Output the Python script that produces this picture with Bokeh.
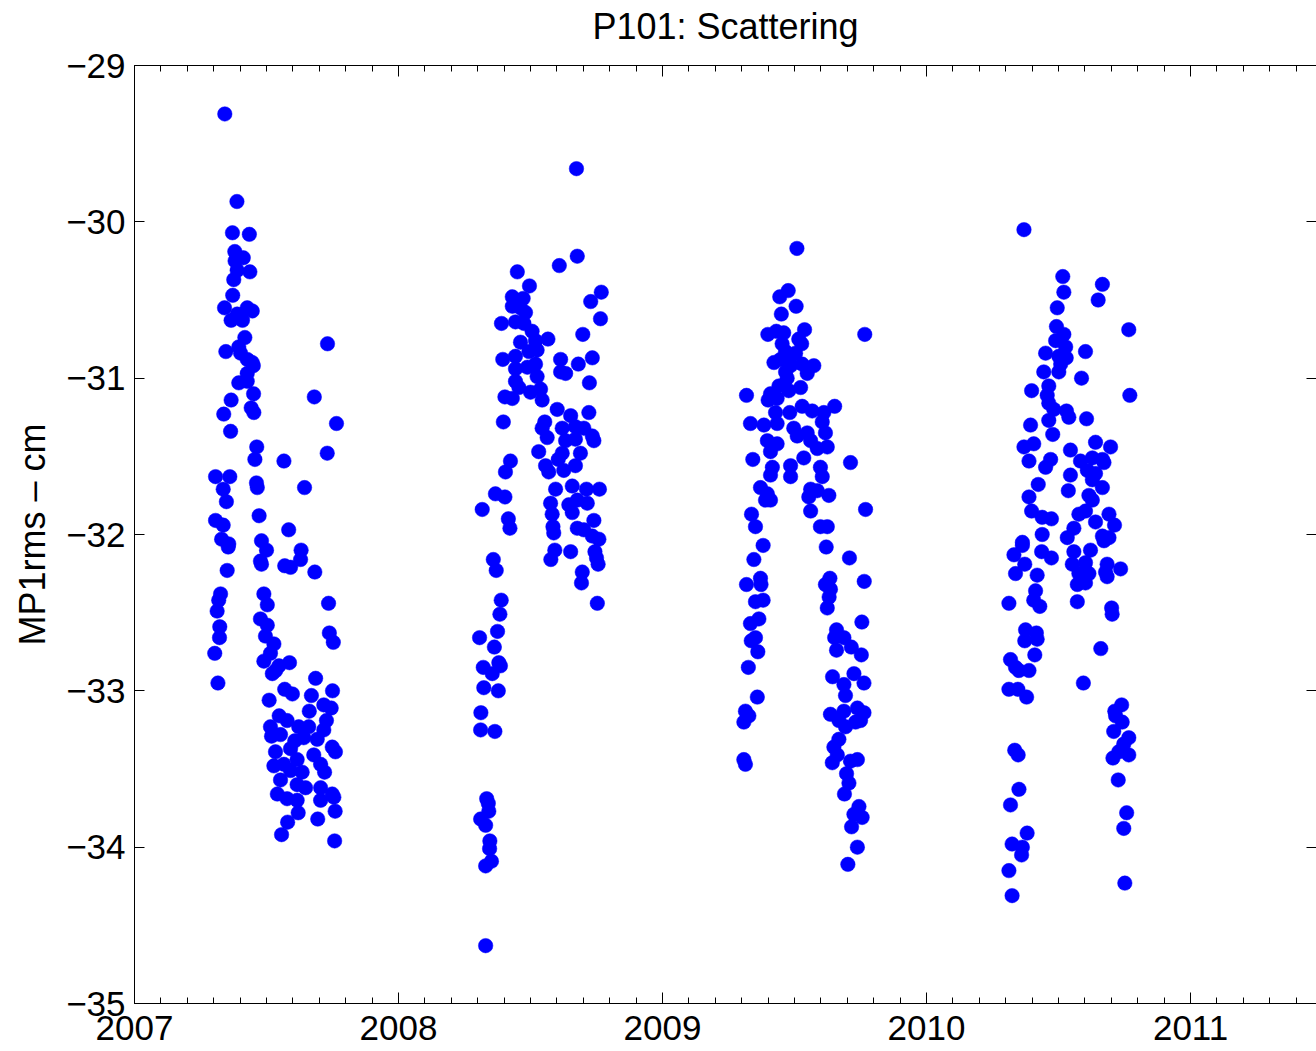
from bokeh.plotting import figure
from bokeh.models import Range1d, LinearAxis, SingleIntervalTicker
from bokeh.embed import file_html
from bokeh.resources import INLINE

# Daily MP1 rms values (cm) for station P101, one list pair per field season
t2007 = [2007.342, 2007.388, 2007.371, 2007.435, 2007.380, 2007.412, 2007.381, 2007.437, 2007.389, 2007.376,
         2007.372, 2007.341, 2007.427, 2007.446, 2007.366, 2007.409, 2007.389, 2007.418, 2007.731, 2007.346,
         2007.395, 2007.402, 2007.427, 2007.446, 2007.450, 2007.427, 2007.395, 2007.427, 2007.366, 2007.451,
         2007.681, 2007.442, 2007.452, 2007.338, 2007.765, 2007.364, 2007.463, 2007.456, 2007.566, 2007.730,
         2007.307, 2007.361, 2007.336, 2007.462, 2007.465, 2007.644, 2007.348, 2007.307, 2007.336, 2007.472,
         2007.584, 2007.330, 2007.357, 2007.355, 2007.481, 2007.500, 2007.631, 2007.629, 2007.481, 2007.477,
         2007.569, 2007.591, 2007.683, 2007.351, 2007.326, 2007.319, 2007.313, 2007.490, 2007.503, 2007.735,
         2007.323, 2007.322, 2007.477, 2007.503, 2007.496, 2007.528, 2007.738, 2007.753, 2007.304, 2007.515,
         2007.490, 2007.547, 2007.587, 2007.522, 2007.535, 2007.316, 2007.686, 2007.569, 2007.598, 2007.670,
         2007.750, 2007.510, 2007.717, 2007.745, 2007.662, 2007.548, 2007.578, 2007.515, 2007.622, 2007.660,
         2007.727, 2007.717, 2007.519, 2007.553, 2007.607, 2007.641, 2007.692, 2007.749, 2007.761, 2007.534,
         2007.591, 2007.616, 2007.679, 2007.705, 2007.720, 2007.528, 2007.566, 2007.591, 2007.635, 2007.553,
         2007.616, 2007.648, 2007.705, 2007.541, 2007.578, 2007.616, 2007.705, 2007.749, 2007.755, 2007.620,
         2007.694, 2007.760, 2007.580, 2007.557, 2007.758]
v2007 = [-29.31, -29.87, -30.07, -30.08, -30.19, -30.23, -30.25, -30.32, -30.31, -30.37,
         -30.47, -30.55, -30.55, -30.57, -30.63, -30.63, -30.59, -30.74, -30.78, -30.83,
         -30.80, -30.84, -30.88, -30.90, -30.92, -30.97, -31.03, -31.02, -31.14, -31.10,
         -31.12, -31.19, -31.22, -31.23, -31.29, -31.34, -31.44, -31.52, -31.53, -31.48,
         -31.63, -31.63, -31.71, -31.67, -31.70, -31.70, -31.79, -31.91, -31.94, -31.88,
         -31.97, -32.03, -32.06, -32.08, -32.04, -32.10, -32.10, -32.16, -32.19, -32.17,
         -32.20, -32.21, -32.24, -32.23, -32.38, -32.42, -32.49, -32.38, -32.45, -32.44,
         -32.59, -32.66, -32.54, -32.58, -32.65, -32.70, -32.63, -32.69, -32.76, -32.76,
         -32.81, -32.84, -32.82, -32.89, -32.87, -32.95, -32.92, -32.99, -33.02, -33.03,
         -33.00, -33.06, -33.09, -33.11, -33.13, -33.16, -33.19, -33.23, -33.23, -33.23,
         -33.19, -33.25, -33.29, -33.28, -33.32, -33.30, -33.31, -33.36, -33.39, -33.39,
         -33.37, -33.44, -33.41, -33.47, -33.52, -33.48, -33.47, -33.51, -33.52, -33.57,
         -33.60, -33.62, -33.62, -33.66, -33.69, -33.70, -33.70, -33.66, -33.68, -33.78,
         -33.82, -33.77, -33.84, -33.92, -33.96]

t2008 = [2008.674, 2008.677, 2008.609, 2008.450, 2008.496, 2008.768, 2008.728, 2008.765, 2008.431, 2008.472,
         2008.431, 2008.462, 2008.481, 2008.390, 2008.443, 2008.475, 2008.506, 2008.462, 2008.519, 2008.566,
         2008.698, 2008.395, 2008.443, 2008.494, 2008.525, 2008.614, 2008.681, 2008.734, 2008.443, 2008.488,
         2008.519, 2008.614, 2008.633, 2008.443, 2008.525, 2008.456, 2008.500, 2008.538, 2008.723, 2008.403,
         2008.431, 2008.544, 2008.397, 2008.601, 2008.652, 2008.721, 2008.554, 2008.544, 2008.563, 2008.620,
         2008.670, 2008.702, 2008.734, 2008.633, 2008.670, 2008.740, 2008.531, 2008.620, 2008.689, 2008.605,
         2008.557, 2008.670, 2008.569, 2008.626, 2008.424, 2008.405, 2008.367, 2008.403, 2008.317, 2008.416,
         2008.422, 2008.595, 2008.658, 2008.712, 2008.761, 2008.576, 2008.645, 2008.677, 2008.715, 2008.582,
         2008.658, 2008.740, 2008.585, 2008.588, 2008.677, 2008.702, 2008.734, 2008.759, 2008.592, 2008.577,
         2008.652, 2008.744, 2008.750, 2008.756, 2008.696, 2008.693, 2008.753, 2008.359, 2008.370, 2008.389,
         2008.384, 2008.375, 2008.307, 2008.363, 2008.380, 2008.321, 2008.355, 2008.386, 2008.323, 2008.378,
         2008.312, 2008.311, 2008.365, 2008.334, 2008.340, 2008.342, 2008.311, 2008.330, 2008.346, 2008.345,
         2008.352, 2008.330, 2008.330]
v2008 = [-29.66, -30.22, -30.28, -30.32, -30.41, -30.45, -30.51, -30.62, -30.48, -30.49,
         -30.54, -30.55, -30.58, -30.65, -30.64, -30.65, -30.70, -30.77, -30.76, -30.75,
         -30.72, -30.88, -30.86, -30.83, -30.82, -30.88, -30.91, -30.87, -30.94, -30.93,
         -30.91, -30.96, -30.97, -31.02, -30.99, -31.06, -31.09, -31.07, -31.03, -31.12,
         -31.13, -31.14, -31.28, -31.20, -31.24, -31.22, -31.28, -31.32, -31.38, -31.32,
         -31.31, -31.32, -31.37, -31.40, -31.39, -31.40, -31.47, -31.48, -31.48, -31.52,
         -31.56, -31.56, -31.60, -31.59, -31.53, -31.60, -31.74, -31.76, -31.84, -31.90,
         -31.96, -31.71, -31.69, -31.71, -31.71, -31.80, -31.81, -31.78, -31.80, -31.87,
         -31.86, -31.91, -31.95, -31.99, -31.96, -31.97, -32.01, -32.03, -32.10, -32.16,
         -32.11, -32.11, -32.15, -32.19, -32.24, -32.31, -32.44, -32.16, -32.23, -32.42,
         -32.51, -32.62, -32.66, -32.72, -32.82, -32.85, -32.89, -32.84, -32.98, -33.00,
         -33.14, -33.25, -33.26, -33.69, -33.72, -33.77, -33.82, -33.86, -33.96, -34.01,
         -34.09, -34.12, -34.63]

t2009 = [2009.509, 2009.476, 2009.444, 2009.506, 2009.450, 2009.399, 2009.431, 2009.459, 2009.538, 2009.766,
         2009.453, 2009.516, 2009.527, 2009.466, 2009.504, 2009.485, 2009.422, 2009.447, 2009.573, 2009.485,
         2009.529, 2009.466, 2009.548, 2009.472, 2009.523, 2009.441, 2009.478, 2009.318, 2009.409, 2009.400,
         2009.434, 2009.428, 2009.482, 2009.529, 2009.567, 2009.652, 2009.611, 2009.333, 2009.384, 2009.434,
         2009.497, 2009.548, 2009.605, 2009.617, 2009.397, 2009.434, 2009.510, 2009.561, 2009.624, 2009.586,
         2009.535, 2009.409, 2009.342, 2009.712, 2009.416, 2009.485, 2009.598, 2009.485, 2009.605, 2009.409,
         2009.371, 2009.397, 2009.390, 2009.409, 2009.561, 2009.586, 2009.630, 2009.554, 2009.561, 2009.769,
         2009.337, 2009.352, 2009.598, 2009.624, 2009.381, 2009.620, 2009.346, 2009.708, 2009.318, 2009.371,
         2009.373, 2009.764, 2009.634, 2009.617, 2009.636, 2009.631, 2009.624, 2009.352, 2009.381, 2009.333,
         2009.365, 2009.755, 2009.659, 2009.652, 2009.687, 2009.659, 2009.715, 2009.753, 2009.336, 2009.352,
         2009.361, 2009.325, 2009.644, 2009.687, 2009.725, 2009.763, 2009.693, 2009.359, 2009.314, 2009.327,
         2009.308, 2009.636, 2009.687, 2009.738, 2009.763, 2009.668, 2009.693, 2009.731, 2009.750, 2009.668,
         2009.649, 2009.662, 2009.643, 2009.712, 2009.738, 2009.308, 2009.314, 2009.697, 2009.706, 2009.689,
         2009.744, 2009.725, 2009.756, 2009.716, 2009.738, 2009.702]
v2009 = [-30.17, -30.44, -30.48, -30.54, -30.59, -30.72, -30.70, -30.71, -30.69, -30.72,
         -30.78, -30.75, -30.78, -30.83, -30.84, -30.86, -30.90, -30.88, -30.92, -30.92,
         -30.91, -30.96, -30.97, -31.00, -31.06, -31.05, -31.08, -31.11, -31.10, -31.14,
         -31.13, -31.22, -31.22, -31.18, -31.21, -31.18, -31.22, -31.29, -31.30, -31.29,
         -31.32, -31.35, -31.28, -31.35, -31.40, -31.42, -31.37, -31.40, -31.44, -31.45,
         -31.51, -31.47, -31.52, -31.54, -31.57, -31.56, -31.57, -31.63, -31.63, -31.62,
         -31.70, -31.74, -31.78, -31.78, -31.71, -31.72, -31.75, -31.76, -31.85, -31.84,
         -31.87, -31.95, -31.95, -31.95, -32.07, -32.08, -32.16, -32.15, -32.32, -32.28,
         -32.32, -32.30, -32.28, -32.32, -32.35, -32.40, -32.47, -32.43, -32.42, -32.57,
         -32.54, -32.56, -32.61, -32.66, -32.66, -32.74, -32.72, -32.77, -32.68, -32.66,
         -32.75, -32.85, -32.91, -32.96, -32.89, -32.95, -33.03, -33.04, -33.13, -33.16,
         -33.20, -33.15, -33.13, -33.11, -33.14, -33.19, -33.23, -33.20, -33.19, -33.31,
         -33.36, -33.41, -33.46, -33.45, -33.44, -33.44, -33.47, -33.53, -33.59, -33.66,
         -33.74, -33.79, -33.81, -33.87, -34.00, -34.11]

t2010 = [2010.369, 2010.516, 2010.520, 2010.666, 2010.650, 2010.495, 2010.492, 2010.520, 2010.766, 2010.489,
         2010.527, 2010.451, 2010.501, 2010.529, 2010.602, 2010.508, 2010.444, 2010.501, 2010.587, 2010.463,
         2010.398, 2010.770, 2010.457, 2010.463, 2010.482, 2010.530, 2010.539, 2010.606, 2010.463, 2010.394,
         2010.478, 2010.369, 2010.406, 2010.640, 2010.697, 2010.388, 2010.451, 2010.470, 2010.545, 2010.583,
         2010.628, 2010.666, 2010.672, 2010.545, 2010.609, 2010.640, 2010.628, 2010.666, 2010.423, 2010.537,
         2010.615, 2010.388, 2010.628, 2010.398, 2010.438, 2010.473, 2010.577, 2010.602, 2010.640, 2010.691,
         2010.712, 2010.558, 2010.438, 2010.533, 2010.666, 2010.363, 2010.691, 2010.672, 2010.363, 2010.331,
         2010.436, 2010.473, 2010.558, 2010.621, 2010.372, 2010.337, 2010.419, 2010.552, 2010.602, 2010.684,
         2010.735, 2010.577, 2010.615, 2010.678, 2010.684, 2010.571, 2010.602, 2010.413, 2010.312, 2010.406,
         2010.429, 2010.571, 2010.701, 2010.703, 2010.375, 2010.416, 2010.372, 2010.419, 2010.660, 2010.410,
         2010.318, 2010.337, 2010.350, 2010.388, 2010.594, 2010.312, 2010.346, 2010.379, 2010.739, 2010.713,
         2010.716, 2010.741, 2010.709, 2010.766, 2010.747, 2010.766, 2010.728, 2010.706, 2010.726, 2010.334,
         2010.347, 2010.350, 2010.318, 2010.381, 2010.324, 2010.363, 2010.360, 2010.312, 2010.324, 2010.758,
         2010.747, 2010.751]
v2010 = [-30.05, -30.35, -30.45, -30.40, -30.50, -30.55, -30.67, -30.72, -30.69, -30.76,
         -30.80, -30.84, -30.86, -30.87, -30.83, -30.91, -30.96, -30.96, -31.00, -31.05,
         -31.08, -31.11, -31.11, -31.16, -31.20, -31.21, -31.25, -31.26, -31.27, -31.30,
         -31.36, -31.44, -31.42, -31.41, -31.44, -31.53, -31.57, -31.52, -31.46, -31.53,
         -31.51, -31.52, -31.54, -31.62, -31.59, -31.61, -31.65, -31.70, -31.68, -31.72,
         -31.75, -31.76, -31.78, -31.85, -31.89, -31.90, -31.87, -31.85, -31.92, -31.87,
         -31.94, -31.96, -32.00, -32.02, -32.01, -32.05, -32.02, -32.04, -32.07, -32.13,
         -32.11, -32.15, -32.11, -32.10, -32.19, -32.25, -32.26, -32.19, -32.18, -32.19,
         -32.22, -32.25, -32.25, -32.24, -32.27, -32.32, -32.31, -32.36, -32.44, -32.42,
         -32.46, -32.43, -32.47, -32.51, -32.61, -32.63, -32.68, -32.67, -32.73, -32.77,
         -32.80, -32.85, -32.87, -32.87, -32.95, -32.99, -32.99, -33.04, -33.09, -33.13,
         -33.16, -33.20, -33.26, -33.30, -33.34, -33.41, -33.39, -33.43, -33.57, -33.38,
         -33.41, -33.63, -33.73, -33.91, -33.98, -34.00, -34.05, -34.15, -34.31, -33.78,
         -33.88, -34.23]

x_ticks = [2007, 2008, 2009, 2010, 2011]
y_ticks = [-35, -34, -33, -32, -31, -30, -29]

years = t2007 + t2008 + t2009 + t2010
values = v2007 + v2008 + v2009 + v2010

FONT = "Liberation Sans"

p = figure(width=1316, height=1051, output_backend="svg", toolbar_location=None,
           x_range=Range1d(2007, 2011.477), y_range=Range1d(-35, -29),
           min_border_left=134, min_border_right=0, min_border_top=65, min_border_bottom=48,
           background_fill_color="white", border_fill_color="white")

p.xgrid.visible = False
p.ygrid.visible = False
p.outline_line_color = None

p.scatter(years, values, size=14.5, fill_color="#0000ff", line_color="#0000ff", line_width=0.5)


def style_axis(ax, minor, show_labels):
    ax.axis_line_color = "black"
    ax.axis_line_width = 1
    ax.major_tick_line_color = "black"
    ax.minor_tick_line_color = "black"
    ax.major_tick_in = 11 if minor else 10
    ax.major_tick_out = 0
    ax.minor_tick_in = 6
    ax.minor_tick_out = 0
    if show_labels:
        ax.major_label_text_font = FONT
        ax.major_label_text_font_size = "35px"
        ax.major_label_text_color = "black"
        ax.major_label_standoff = 12
    else:
        # mirror axes carry ticks only
        ax.major_label_text_font_size = "1px"
        ax.major_label_text_color = None
        ax.major_label_standoff = 0


xa = p.xaxis[0]
xa.ticker = SingleIntervalTicker(interval=1, num_minor_ticks=10)
style_axis(xa, True, True)
xa.major_label_overrides = {t: str(t) for t in x_ticks}

ya = p.yaxis[0]
ya.ticker = SingleIntervalTicker(interval=1, num_minor_ticks=0)
style_axis(ya, False, True)
ya.major_label_standoff = 9
ya.major_label_overrides = {t: "\u2212%d" % abs(t) for t in y_ticks}
ya.axis_label = "MP1rms \u2013 cm"
ya.axis_label_text_font = FONT
ya.axis_label_text_font_size = "36px"
ya.axis_label_text_font_style = "normal"
ya.axis_label_text_color = "black"
ya.axis_label_standoff = 10

# top mirror axis: ticks only, and it carries the chart heading in its label slot
top = LinearAxis(ticker=SingleIntervalTicker(interval=1, num_minor_ticks=10))
style_axis(top, True, False)
top.axis_label = "P101: Scattering"
top.axis_label_text_font = FONT
top.axis_label_text_font_size = "36px"
top.axis_label_text_font_style = "normal"
top.axis_label_text_color = "black"
top.axis_label_standoff = 19
p.add_layout(top, "above")

right = LinearAxis(ticker=SingleIntervalTicker(interval=1, num_minor_ticks=0))
style_axis(right, False, False)
right.axis_line_color = None
p.add_layout(right, "right")

open("out.html", "w").write(file_html(p, INLINE))
